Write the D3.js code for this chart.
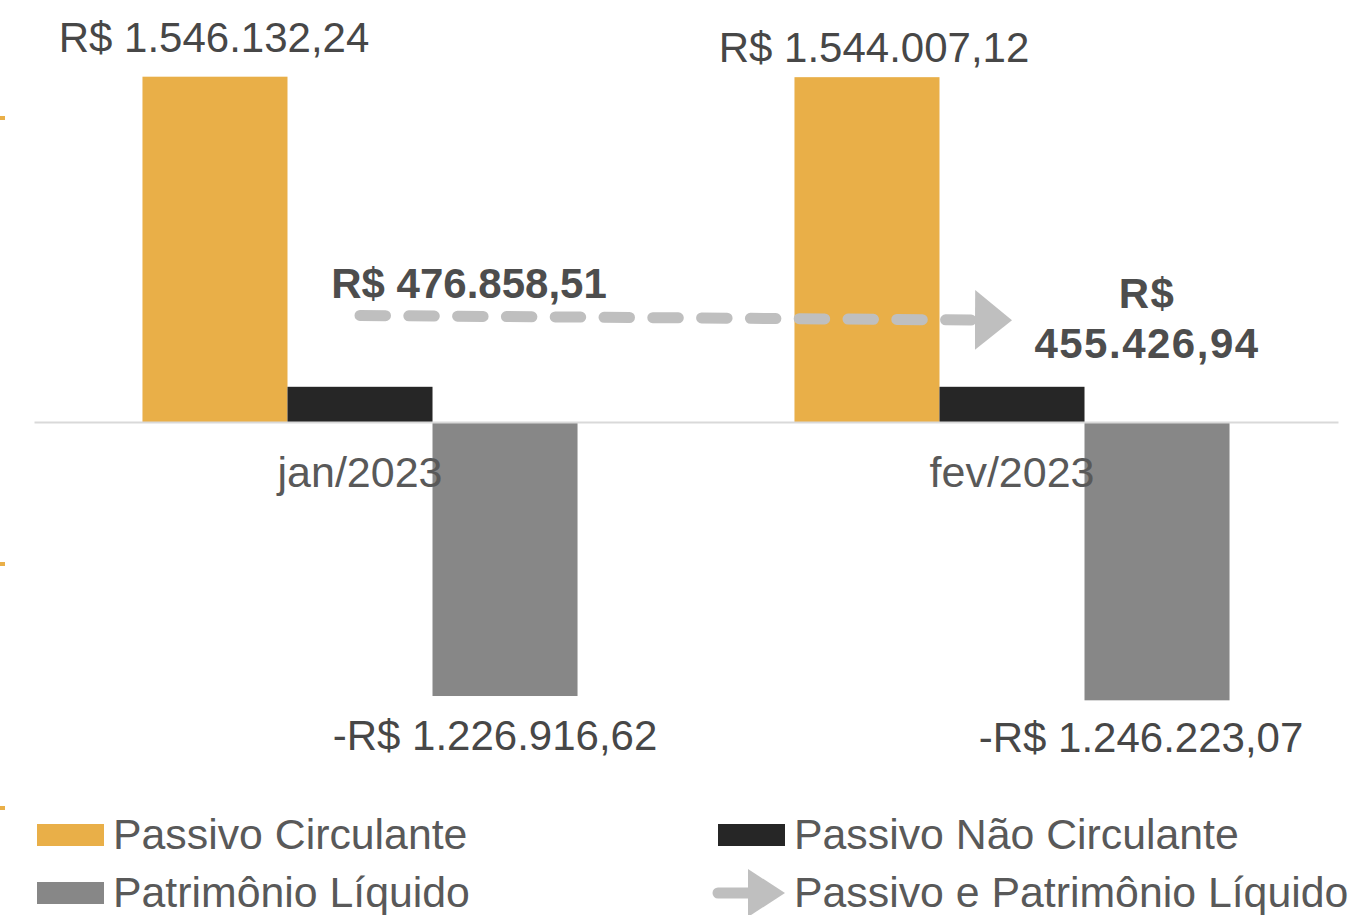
<!DOCTYPE html>
<html>
<head>
<meta charset="utf-8">
<script src="https://cdn.jsdelivr.net/npm/d3@7"></script>
<style>
    html, body { margin: 0; padding: 0; background: #fff; }
    .chart { width: 1348px; height: 915px; }
    text { font-family: "Liberation Sans", Arial, sans-serif; }
</style>
</head>
<body>
<div class="chart"></div>
<script>
//chart values
const categories = ["jan/2023", "fev/2023"];
const passivoCirculante = [1546132.24, 1544007.12];
const passivoNaoCirculante = [157642.89, 157642.89];
const patrimonioLiquido = [-1226916.62, -1246223.07];
const passivoEPatrimonio = [476858.51, 455426.94];

const seriesNames = ["Passivo Circulante", "Passivo Não Circulante", "Patrimônio Líquido"];
const lineName = "Passivo e Patrimônio Líquido";

let chart = {};

init();

function init() {
    chart.colors = {
        "Passivo Circulante": "#E9AF48",
        "Passivo Não Circulante": "#262626",
        "Patrimônio Líquido": "#878787",
        line: "#BFBFBF"
    };

    //bars grouped per month
    chart.data = categories.map((c, i) => ({
        category: c,
        values: [passivoCirculante[i], passivoNaoCirculante[i], patrimonioLiquido[i]],
        total: passivoEPatrimonio[i]
    }));

    //pt-BR money format: R$ 1.546.132,24
    chart.money = d3.formatLocale({
        decimal: ",",
        thousands: ".",
        grouping: [3],
        currency: ["R$ ", ""],
        minus: "-"
    }).format("$,.2f");

    chart.arrowLen = 37;

    appendElements();
    update();
}

function update() {
    setDimensions();
    setScales();
    updateElements();
}

function setDimensions() {
    chart.margin = { top: 87, right: 10, bottom: 158, left: 34 };
    chart.width = 1348 - chart.margin.left - chart.margin.right;
    chart.height = 915 - chart.margin.top - chart.margin.bottom;
}

function setScales() {
    chart.xScale = d3.scaleBand()
        .domain(categories)
        .range([0, chart.width])
        .padding(0);

    chart.xInner = d3.scaleBand()
        .domain(seriesNames)
        .range([0, chart.xScale.bandwidth()])
        .paddingInner(0)
        .paddingOuter(0.748);

    chart.yScale = d3.scaleLinear()
        .domain([-1500000, 1500000])
        .range([chart.height, 0]);
}

function appendElements() {
    chart.svg = d3.select(".chart").append("svg");

    //arrow head sits after the end of the line (base on the end point)
    let defs = chart.svg.append("defs");
    defs.append("marker")
        .attr("id", "arrow")
        .attr("markerUnits", "userSpaceOnUse")
        .attr("viewBox", "0 0 37 60")
        .attr("refX", 0)
        .attr("refY", 30)
        .attr("markerWidth", 37)
        .attr("markerHeight", 60)
        .attr("orient", "auto")
        .append("path")
        .attr("d", "M0,0 L37,30 L0,60 Z")
        .attr("fill", chart.colors.line);

    //little orange marks on the left edge
    chart.edge = chart.svg.append("g").attr("class", "edge-marks");

    chart.plot = chart.svg.append("g").attr("class", "chart-g");
    chart.bars = chart.plot.append("g").attr("class", "bars");
    chart.xAxis = chart.plot.append("g").classed("axis x-axis", true);
    chart.labels = chart.plot.append("g").attr("class", "labels");
    chart.lineG = chart.plot.append("g").attr("class", "line");
    chart.legend = chart.svg.append("g").attr("class", "legend");
}

function updateElements() {
    chart.svg.attr("width", 1348).attr("height", 915);
    chart.plot.attr("transform", `translate(${chart.margin.left},${chart.margin.top})`);

    const x = chart.xScale, x1 = chart.xInner, y = chart.yScale;

    chart.edge.selectAll("rect")
        .data([116, 562, 806])
        .join("rect")
        .attr("x", 0).attr("y", d => d)
        .attr("width", 5).attr("height", 4)
        .attr("fill", chart.colors["Passivo Circulante"]);

    //bars
    let groups = chart.bars.selectAll("g")
        .data(chart.data)
        .join("g")
        .attr("transform", d => `translate(${x(d.category)},0)`);

    groups.selectAll("rect")
        .data(d => d.values.map((v, j) => ({ key: seriesNames[j], value: v })))
        .join("rect")
        .attr("x", d => x1(d.key))
        .attr("width", x1.bandwidth())
        .attr("y", d => y(Math.max(0, d.value)))
        .attr("height", d => Math.abs(y(d.value) - y(0)))
        .attr("fill", d => chart.colors[d.key]);

    //baseline + month labels
    chart.xAxis.attr("transform", `translate(0,${y(0)})`)
        .call(d3.axisBottom(x).tickSize(0).tickPadding(0));
    chart.xAxis.select(".domain")
        .attr("stroke", "#D9D9D9")
        .attr("stroke-width", 2);
    chart.xAxis.selectAll(".tick text")
        .attr("y", 65)
        .attr("dy", 0)
        .attr("fill", "#595959")
        .attr("font-size", 43)
        .attr("font-family", "Liberation Sans, Arial, sans-serif");

    //value labels on bars
    const pcNudge = [{ dx: -1, dy: -25 }, { dx: 7, dy: -15 }];
    const plNudge = [{ dx: -10, dy: 54 }, { dx: -16, dy: 52 }];

    chart.labels.selectAll("text.pc")
        .data(chart.data)
        .join("text")
        .attr("class", "pc")
        .attr("x", (d, i) => x(d.category) + x1(seriesNames[0]) + x1.bandwidth() / 2 + pcNudge[i].dx)
        .attr("y", (d, i) => y(d.values[0]) + pcNudge[i].dy)
        .attr("text-anchor", "middle")
        .attr("font-size", 42)
        .attr("fill", "#474747")
        .text(d => chart.money(d.values[0]));

    chart.labels.selectAll("text.pl")
        .data(chart.data)
        .join("text")
        .attr("class", "pl")
        .attr("x", (d, i) => x(d.category) + x1(seriesNames[2]) + x1.bandwidth() / 2 + plNudge[i].dx)
        .attr("y", (d, i) => y(d.values[2]) + plNudge[i].dy)
        .attr("text-anchor", "middle")
        .attr("font-size", 42)
        .attr("fill", "#474747")
        .text(d => chart.money(d.values[2]));

    //total line, dashed, stopping at the arrow base
    let pts = chart.data.map(d => [x(d.category) + x.bandwidth() / 2, y(d.total)]);
    let a = pts[pts.length - 2], b = pts[pts.length - 1];
    let len = Math.hypot(b[0] - a[0], b[1] - a[1]);
    pts[pts.length - 1] = [
        b[0] - (b[0] - a[0]) / len * chart.arrowLen,
        b[1] - (b[1] - a[1]) / len * chart.arrowLen
    ];

    chart.lineG.selectAll("path")
        .data([pts])
        .join("path")
        .attr("d", d3.line())
        .attr("fill", "none")
        .attr("stroke", chart.colors.line)
        .attr("stroke-width", 11)
        .attr("stroke-linecap", "round")
        .attr("stroke-dasharray", "25.5 23.3")
        .attr("marker-end", "url(#arrow)");

    const lineNudge = [{ dx: 109, dy: -18 }, { dx: 135, dy: -12 }];

    let lineLabels = chart.lineG.selectAll("text")
        .data(chart.data)
        .join("text")
        .attr("text-anchor", "middle")
        .attr("font-family", "Open Sans, sans-serif")
        .attr("font-weight", 700)
        .attr("font-size", 42)
        .attr("letter-spacing", (d, i) => i === 0 ? 0 : 1.5)
        .attr("fill", "#4D4D4D")
        .attr("transform", (d, i) => `translate(${x(d.category) + x.bandwidth() / 2 + lineNudge[i].dx},${y(d.total) + lineNudge[i].dy})`);

    //first label on one line, second one wraps after "R$"
    lineLabels.each(function(d, i) {
        let parts = i === 0 ? [chart.money(d.total)] : chart.money(d.total).split(" ");
        d3.select(this).selectAll("tspan")
            .data(parts)
            .join("tspan")
            .attr("x", 0)
            .attr("dy", (p, k) => k === 0 ? 0 : 50)
            .text(p => p);
    });

    //legend
    const legendItems = [
        { name: seriesNames[0], col: 0, row: 0 },
        { name: seriesNames[1], col: 1, row: 0 },
        { name: seriesNames[2], col: 0, row: 1 },
        { name: lineName, col: 1, row: 1 }
    ];
    const colX = [37, 718], rowY = [835, 893];

    let items = chart.legend.selectAll("g")
        .data(legendItems)
        .join("g")
        .attr("transform", d => `translate(${colX[d.col]},${rowY[d.row]})`);

    items.filter(d => d.name !== lineName)
        .append("rect")
        .attr("x", 0).attr("y", -11)
        .attr("width", 67).attr("height", 22)
        .attr("fill", d => chart.colors[d.name]);

    let lineItem = items.filter(d => d.name === lineName);
    lineItem.append("line")
        .attr("x1", 0).attr("x2", 30)
        .attr("y1", 0).attr("y2", 0)
        .attr("stroke", chart.colors.line)
        .attr("stroke-width", 11)
        .attr("stroke-linecap", "round");
    lineItem.append("path")
        .attr("d", "M30,-24 L67,0 L30,24 Z")
        .attr("fill", chart.colors.line);

    items.append("text")
        .attr("x", 76)
        .attr("y", 14)
        .attr("font-size", 42.8)
        .attr("fill", "#595959")
        .text(d => d.name);
}
</script>
</body>
</html>
